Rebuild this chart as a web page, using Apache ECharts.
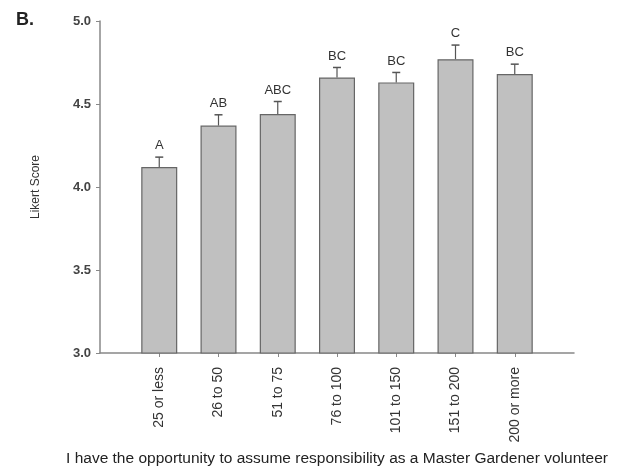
<!DOCTYPE html>
<html>
<head>
<meta charset="utf-8">
<script src="https://cdn.jsdelivr.net/npm/echarts@6/dist/echarts.min.js"></script>
<style>html,body{margin:0;padding:0;background:#fff;}#c{width:620px;height:470px;}</style>
</head>
<body>
<div id="c"></div>
<script>
const categories = ['25 or less', '26 to 50', '51 to 75', '76 to 100', '101 to 150', '151 to 200', '200 or more'];
const means = [4.12, 4.37, 4.44, 4.66, 4.63, 4.77, 4.68];
const errors = [0.06, 0.065, 0.075, 0.06, 0.06, 0.085, 0.06];
const letters = ['A', 'AB', 'ABC', 'BC', 'BC', 'C', 'BC'];
const yTicks = [3.0, 3.5, 4.0, 4.5, 5.0];

const paddedCats = [''].concat(categories, ['']);
const barData = [null].concat(means, [null]);
const errData = means.map((m, i) => [i + 1, m, errors[i], letters[i]]);

const chart = echarts.init(document.getElementById('c'));
chart.setOption({
  animation: false,
  title: {
    text: 'B.', left: 16, top: 11, padding: 0,
    textStyle: { fontFamily: 'Liberation Sans', fontSize: 18, fontWeight: 'bold', color: '#222' }
  },
  grid: { left: 100, right: 46, top: 21, bottom: 117, outerBoundsMode: 'none', containLabel: false },
  xAxis: {
    type: 'category',
    data: paddedCats,
    boundaryGap: false,
    axisLine: { lineStyle: { color: '#888', width: 1.5 } },
    axisTick: { show: true, length: 4, interval: (i) => i > 0 && i < paddedCats.length - 1, lineStyle: { color: '#888' } },
    axisLabel: { rotate: 90, interval: 0, margin: 14, fontFamily: 'Liberation Sans', fontSize: 14, color: '#333' },
    name: 'I have the opportunity to assume responsibility as a Master Gardener volunteer',
    nameLocation: 'middle',
    nameGap: 98,
    nameTextStyle: { fontFamily: 'Liberation Sans', fontSize: 15.5, color: '#222' }
  },
  yAxis: {
    type: 'value',
    min: yTicks[0], max: yTicks[yTicks.length - 1], interval: 0.5,
    axisLine: { show: true, lineStyle: { color: '#888', width: 1.5 } },
    axisTick: { show: true, length: 4, lineStyle: { color: '#888' } },
    splitLine: { show: false },
    axisLabel: {
      fontFamily: 'Liberation Sans', fontSize: 13, fontWeight: 'bold', color: '#444', margin: 9,
      formatter: (v) => v.toFixed(1)
    },
    name: 'Likert Score',
    nameLocation: 'middle',
    nameGap: 58,
    nameRotate: 90,
    nameTextStyle: { fontFamily: 'Liberation Sans', fontSize: 12, color: '#333' }
  },
  series: [
    {
      type: 'bar',
      data: barData,
      barWidth: 36,
      itemStyle: { color: '#c0c0c0', borderColor: '#666', borderWidth: 1.2 },
      z: 2
    },
    {
      type: 'custom',
      data: errData,
      z: 3,
      renderItem: function (params, api) {
        const x = api.value(0);
        const m = api.value(1);
        const e = api.value(2);
        const lab = api.value(3);
        const p0 = api.coord([x, m]);
        const p1 = api.coord([x, m + e]);
        const cap = 4;
        return {
          type: 'group',
          children: [
            { type: 'line', shape: { x1: p0[0], y1: p0[1], x2: p1[0], y2: p1[1] }, style: { stroke: '#555', lineWidth: 1.2 } },
            { type: 'line', shape: { x1: p1[0] - cap, y1: p1[1], x2: p1[0] + cap, y2: p1[1] }, style: { stroke: '#555', lineWidth: 1.5 } },
            { type: 'text', x: p1[0], y: p1[1] - 5, style: { text: lab, fill: '#333', font: '13px "Liberation Sans"', align: 'center', verticalAlign: 'bottom' } }
          ]
        };
      }
    }
  ]
});
</script>
</body>
</html>
